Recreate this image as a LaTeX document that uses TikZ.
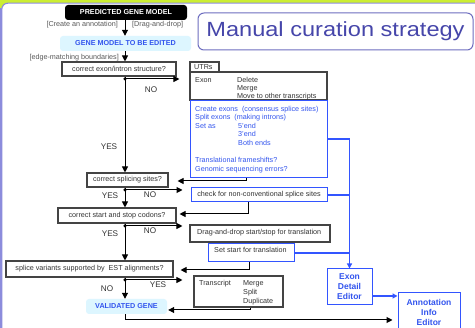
\documentclass[tikz,border=0pt]{standalone}
\usepackage{fontspec}
\setmainfont{Liberation Sans}
\usetikzlibrary{arrows.meta}
\definecolor{topbar}{HTML}{CCEE33}
\definecolor{frame}{HTML}{8C8CDC}
\definecolor{bluet}{HTML}{3355EE}
\definecolor{blueline}{HTML}{3355FF}
\definecolor{cyanlt}{HTML}{DDF6FF}
\definecolor{boxgray}{HTML}{444444}
\definecolor{txtgray}{HTML}{333333}
\definecolor{titleblue}{HTML}{4646AA}
\definecolor{titleframe}{HTML}{6E6EC0}
\begin{document}
\begin{tikzpicture}[x=1pt,y=-1pt,
  every node/.style={font=\fontsize{7.2}{8.5}\selectfont, inner sep=0pt, text=txtgray},
  gbox/.style={draw=boxgray, line width=1.1pt},
  bbox/.style={draw=blueline, line width=1pt},
  pill/.style={fill=cyanlt, rounded corners=3pt, text=bluet, font=\fontsize{7.2}{8.5}\selectfont\bfseries},
  edit/.style={bbox, text=bluet, align=center, font=\fontsize{8.5}{10}\selectfont\bfseries},
  conn/.style={line width=1pt, -{Triangle[length=6pt,width=6pt]}},
  plain/.style={line width=1pt},
  bconn/.style={draw=blueline, line width=1.2pt},
  barrow/.style={-{Triangle[length=5pt,width=5pt]}, blueline},
  dot/.style={circle, fill=black, minimum size=3.5pt},
  yn/.style={font=\fontsize{8.2}{10}\selectfont},
  lbl/.style={text=black!65},
  btxt/.style={text=bluet, anchor=base west},
  gtxt/.style={anchor=base west},
]
\useasboundingbox (0,0) rectangle (475,328);
% background
\fill[white] (0,0) rectangle (475,328);
\fill[topbar] (0,0) rectangle (475,3) (0,0) rectangle (12,12);
\fill[frame] (0,8) rectangle (2.2,328);
\filldraw[fill=white, draw=frame, line width=1.1pt, rounded corners=6pt]
  (1.8,340) -- (1.8,3.2) -- (490,3.2) -- (490,340) -- cycle;
% title
\node[draw=titleframe, line width=1pt, rounded corners=6pt, minimum width=275pt, minimum height=37pt,
  text=titleblue, font=\fontsize{20.5}{24}\selectfont] (title) at (335.5,31.5)
  {\scalebox{1.15}[1]{Manual curation strategy}};
% main axis coordinate
\coordinate (m) at (125,0);
% nodes
\node[fill=black, rounded corners=3pt, text=white, font=\fontsize{7.2}{8.5}\selectfont\bfseries,
  minimum width=122pt, minimum height=15pt] (pgm) at (126,12.5) {PREDICTED GENE MODEL};
\node[lbl, anchor=east] (l1) at (118,25) {[Create an annotation]};
\node[lbl, anchor=west] (l2) at (132,25) {[Drag-and-drop]};
\node[pill, minimum width=131pt, minimum height=15pt] (gme) at (125.5,43.5) {GENE MODEL TO BE EDITED};
\node[lbl, anchor=east] (l3) at (119,58) {[edge-matching boundaries]};
\node[gbox, minimum width=114pt, minimum height=14pt] (q1) at (119,69) {correct exon/intron structure?};
\node[gbox, minimum width=118pt, minimum height=15pt] (q3) at (117,215.5) {correct start and stop codons?};
\node[gbox, minimum width=81pt, minimum height=14pt] (q2) at (127.5,180) {correct splicing sites?};
\node[gbox, minimum width=167pt, minimum height=16pt] (q4) at (89.5,269) {splice variants supported by\ \ EST alignments?};
\node[pill, minimum width=81pt, minimum height=15pt] (vg) at (126.5,306.5) {VALIDATED GENE};
% right side boxes
\node[gbox, minimum width=29pt, minimum height=10pt] (utr) at (204.5,67) {};
\node[gtxt] (utrt) at (194,69.5) {UTRs};
\node[gbox, minimum width=137pt, minimum height=28pt] (exbox) at (258.5,86) {};
\node[gtxt] (e1) at (195,82.5) {Exon};
\node[gtxt] (e2) at (237,82.5) {Delete};
\node[gtxt] (e3) at (237,91) {Merge};
\node[gtxt] (e4) at (237,99) {Move to other transcripts};
\node[bbox, minimum width=137pt, minimum height=77pt] (bluebox) at (258.5,139.5) {};
\node[btxt] (c1) at (195,111.5) {Create exons\ \ (consensus splice sites)};
\node[btxt] (c2) at (195,120) {Split exons\ \ (making introns)};
\node[btxt] (c3) at (195,129) {Set as};
\node[btxt] (c4) at (238,129) {5’end};
\node[btxt] (c5) at (238,137) {3’end};
\node[btxt] (c6) at (238,146) {Both ends};
\node[btxt] (c7) at (195,163) {Translational frameshifts?};
\node[btxt] (c8) at (195,172) {Genomic sequencing errors?};
\node[bbox, minimum width=136pt, minimum height=14pt] (chk) at (259,195) {check for non-conventional splice sites};
\node[gbox, minimum width=140pt, minimum height=17pt] (dd) at (260,233.5) {};
\node[gtxt] (ddt) at (197,234.2) {Drag-and-drop start/stop for translation};
\node[bbox, minimum width=86pt, minimum height=18pt] (ss) at (251,253) {};
\node[gtxt] (sst) at (214,252.8) {Set start for translation};
\node[gbox, minimum width=89pt, minimum height=31pt] (tr) at (238.5,291.5) {};
\node[gtxt] (t1) at (199,285.2) {Transcript};
\node[gtxt] (t2) at (243,285.2) {Merge};
\node[gtxt] (t3) at (243,294.2) {Split};
\node[gtxt] (t4) at (243,303.2) {Duplicate};
\node[edit, minimum width=45pt, minimum height=36pt] (ede) at (349.5,287) {Exon\\Detail\\Editor};
\node[edit, minimum width=62pt, minimum height=38pt] (aie) at (429,312) {Annotation\\Info\\Editor};
% yes / no labels
\node[yn] (n1) at (151,90) {NO};
\node[yn] (y1) at (109,147) {YES};
\node[yn] (y2) at (110,196) {YES};
\node[yn] (n2) at (150,195) {NO};
\node[yn] (y3) at (110,234) {YES};
\node[yn] (n3) at (150,231) {NO};
\node[yn] (n4) at (107,289) {NO};
\node[yn] (y4) at (158,285) {YES};
% dots
\node[dot] (d1) at (125,79) {};
\node[dot] (d2) at (125,190) {};
\node[dot] (d3) at (125,226) {};
\node[dot] (d4) at (125,280) {};
% main flow
\draw[conn] (m |- pgm.south) -- (m |- gme.north);
\draw[conn] (m |- gme.south) -- (m |- q1.north);
\draw[conn] (m |- q1.south) -- (m |- q2.north);
\draw[conn] (m |- q2.south) -- (m |- q3.north);
\draw[conn] (m |- q3.south) -- (m |- q4.north);
\draw[conn] (m |- q4.south) -- (m |- vg.north);
% branches
\draw[conn, shorten >=10pt] (d1.center) -- (exbox.west |- d1);
\draw[conn, shorten >=8pt] (d2.center) -- (chk.west |- d2);
\draw[conn, shorten >=7pt] (d3.center) -- (dd.west |- d3);
\draw[conn, shorten >=11pt] (d4.center) -- (tr.west |- d4);
% returns
\coordinate (r1) at (246,181);
\coordinate (r2) at (248,214);
\coordinate (r3) at (249,270);
\coordinate (r4) at (250,310);
\coordinate (r5) at (125,320);
\draw[conn, shorten >=9pt] (r1 |- bluebox.south) -- (r1) -- (q2.east |- r1);
\draw[conn, shorten >=3pt] (r2 |- chk.south) -- (r2) -- (q3.east |- r2);
\draw[conn, shorten >=7pt] (r3 |- ss.south) -- (r3) -- (q4.east |- r3);
\draw[conn, shorten >=1pt] (r4 |- tr.south) -- (r4) -- (vg.east |- r4);
\draw[conn, shorten >=5pt] (r5 |- vg.south) -- (r5) -- (aie.west |- r5);
% blue connectors
\coordinate (b1) at (349.5,139);
\coordinate (b2) at (372,296);
\draw[bconn, barrow] (b1 -| bluebox.east) -- (b1) -- (b1 |- ede.north);
\draw[bconn] (chk.east) -- (chk.east -| b1);
\draw[bconn] (ss.east) -- (ss.east -| b1);
\draw[bconn, barrow] (b2) -- (aie.west |- b2);
\end{tikzpicture}
\end{document}
